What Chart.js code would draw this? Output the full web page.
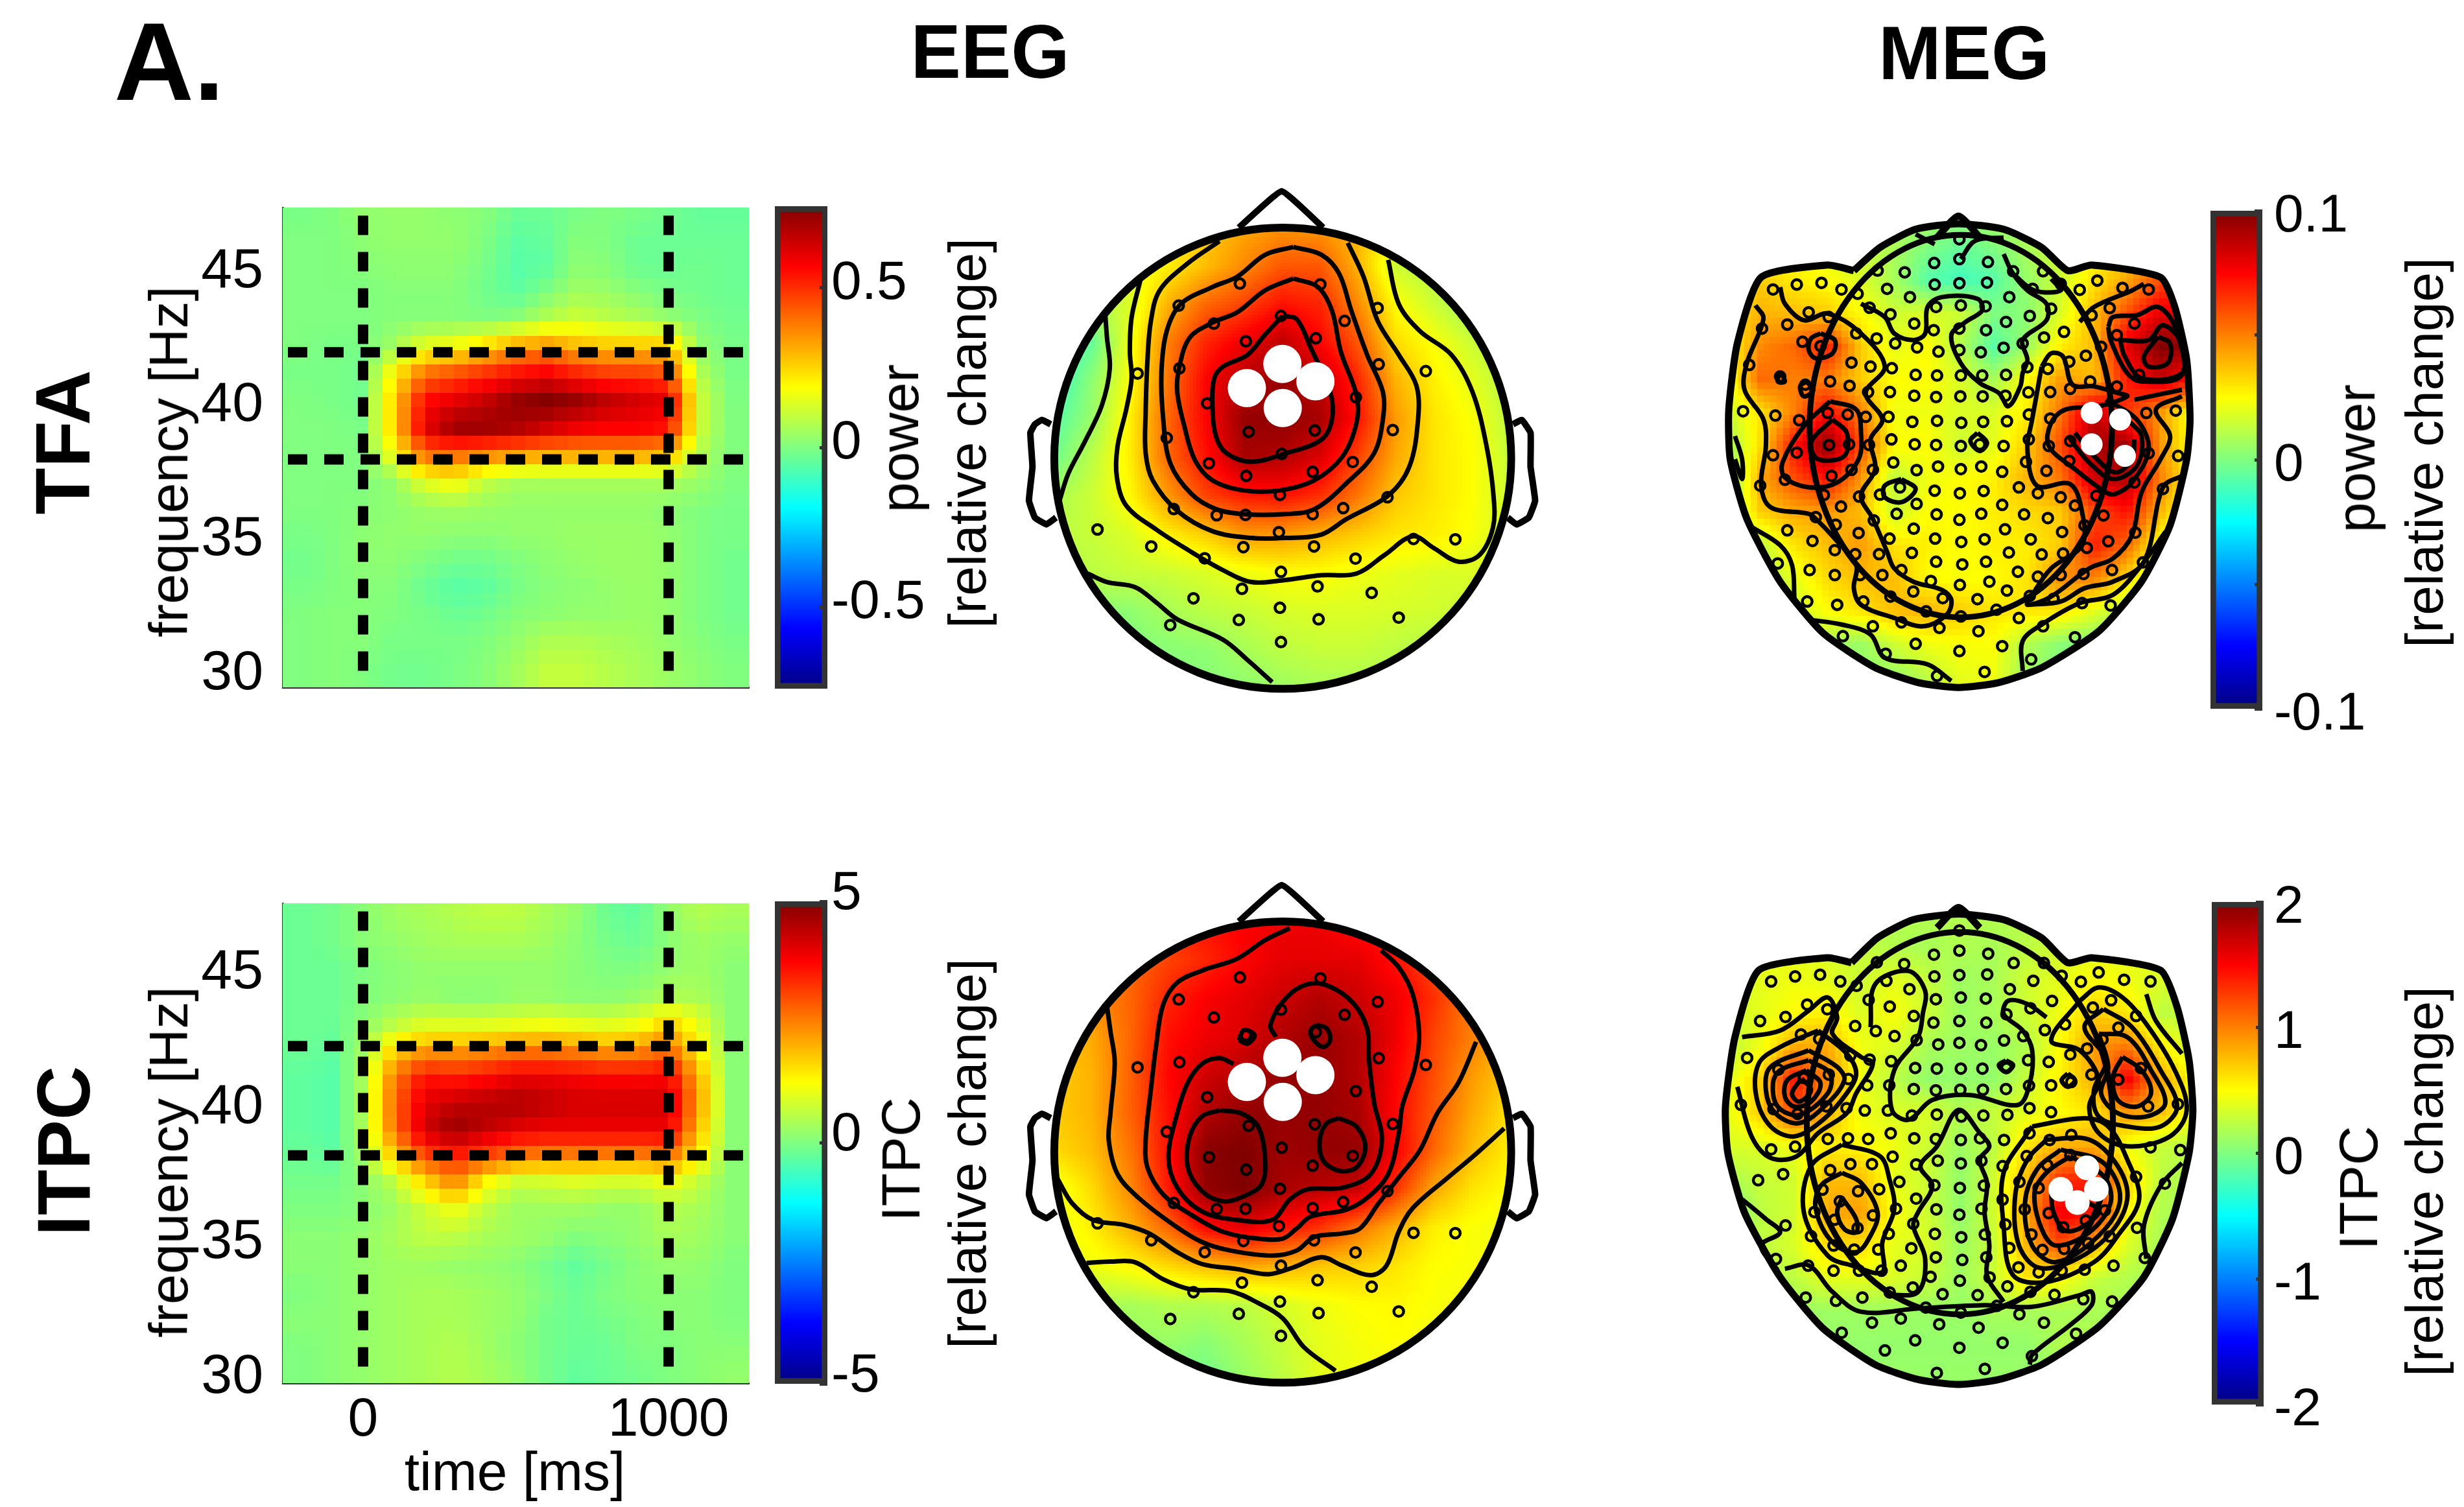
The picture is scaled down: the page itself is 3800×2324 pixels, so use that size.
<!DOCTYPE html>
<html>
<head>
<meta charset="utf-8">
<title>EEG and MEG gamma response</title>
<script src="https://cdn.jsdelivr.net/npm/chart.js@4/dist/chart.umd.min.js"></script>
<style>
  html, body { margin: 0; background: #fff; }
  #page { position: relative; width: 3800px; height: 2324px; overflow: hidden; font-family: "Liberation Sans", Arial, sans-serif; color: #000; }
  canvas { position: absolute; }
  .txt { position: absolute; white-space: nowrap; line-height: 1; z-index: 5; }
</style>
</head>
<body>
<div id="page"></div>
<script>
// --- time-frequency panels ---
const timeCols = [-200,-100,0,100,200,300,400,500,600,700,800,900,1000,1100,1200];
const freqRows = [47,46,45,44,43,42,41,40,39,38,37,36,35,34,33,32,31,30];
const timeTicks = [0,1000];
const freqTicks = [30,35,40,45];

const tfaPower = [
  [-.01,0,.03,.03,.03,.02,.01,-.03,-.03,-.01,0,-.01,-.02,-.04,-.04],
  [0,0,.02,.03,.03,.03,0,-.05,-.04,.01,0,-.03,-.03,-.03,-.03],
  [0,0,.01,.02,.02,.02,-.01,-.06,-.05,.02,.01,-.03,-.03,-.02,-.03],
  [0,0,0,.01,.01,.01,-.02,-.05,0,.05,.04,.01,-.01,-.02,-.03],
  [0,0,0,.01,.01,.01,0,.02,.08,.12,.09,.07,.03,0,-.02],
  [0,-.01,-.01,.05,.16,.18,.25,.33,.36,.3,.28,.28,.28,.03,-.01],
  [-.01,-.01,-.02,.2,.4,.45,.5,.55,.58,.52,.48,.48,.45,.08,-.01],
  [0,-.01,-.02,.25,.55,.6,.65,.72,.75,.72,.66,.63,.6,.12,0],
  [0,0,-.01,.25,.6,.72,.72,.7,.65,.6,.58,.58,.55,.12,0],
  [0,0,0,.18,.42,.42,.38,.35,.33,.33,.33,.33,.3,.08,0],
  [0,0,0,.03,.15,.2,.1,.06,.06,.06,.06,.06,.06,.04,0],
  [0,0,.01,.02,.04,.05,.04,.03,.03,.03,.03,.03,.02,0,-.01],
  [-.01,0,.02,.03,.03,.02,.02,.03,.03,.04,.04,.04,.03,0,-.01],
  [-.02,0,.02,.02,0,-.02,-.02,0,.02,.03,.04,.04,.03,0,-.02],
  [-.01,0,.01,.01,-.03,-.06,-.05,-.01,.01,.02,.03,.04,.03,0,-.02],
  [0,.01,.01,0,-.01,-.03,-.02,.01,.02,.03,.03,.04,.03,0,-.02],
  [0,.01,.01,-.01,-.01,-.01,0,.03,.07,.07,.06,.05,.03,.01,-.01],
  [0,.01,0,-.02,-.02,-.01,.01,.05,.1,.1,.08,.06,.04,.02,0]
];
const itpcPower = [
  [-.2,-.1,.1,.3,.4,.5,.6,.6,.4,.2,-.2,-.3,.2,.5,.4],
  [-.2,-.1,.1,.2,.3,.4,.4,.4,.3,.1,-.1,-.2,.1,.3,.2],
  [-.2,-.2,0,.1,.2,.2,.2,.2,.2,.1,0,0,.2,.3,.1],
  [-.2,-.2,0,.1,.2,.1,.1,.2,.2,.1,.1,.2,.4,.4,.1],
  [-.2,-.2,.1,.5,.8,.8,.8,.9,1,.9,.8,1,1.6,1,.1],
  [-.2,-.3,.3,1.6,2.2,2.2,2.3,2.5,2.5,2.4,2.2,2.3,2.7,1.4,.1],
  [-.3,-.4,.4,2.5,3.6,3.4,3.6,3.9,3.9,3.8,3.7,3.7,3.8,2,.1],
  [-.3,-.4,.4,2.7,4,4.3,4.5,4.6,4.4,4.2,4.2,4.2,4.2,2.2,.1],
  [-.3,-.4,.4,2.6,4.2,4.8,4.4,4,3.9,3.9,3.9,3.9,3.9,1.9,.1],
  [-.2,-.3,.3,1.7,3,3.4,3,2.6,2.4,2.4,2.4,2.4,2.6,1.4,.1],
  [-.1,-.1,.1,.5,1.5,2.4,1.2,.6,.7,.8,.7,.7,1,.6,.1],
  [0,0,.1,.3,.7,1.1,.6,.3,.3,.3,.2,.2,.5,.4,.1],
  [.1,.1,.2,.4,.6,.6,.4,.3,.2,0,.1,.2,.4,.3,.1],
  [.1,.1,.2,.3,.3,.2,.2,.1,-.1,-.3,-.1,.1,.2,.2,0],
  [0,.1,.2,.3,.4,.4,.3,.2,0,-.2,0,.1,.1,.1,0],
  [.1,.1,.2,.3,.4,.4,.3,.2,-.1,-.2,-.1,0,.1,.1,0],
  [0,.1,.2,.3,.4,.5,.3,.1,-.1,-.2,-.2,0,0,.1,.1],
  [0,.1,.2,.3,.4,.5,.4,.2,-.1,-.3,-.2,-.1,0,.1,.2]
];
const tfaDashFreqs = [41.8,37.8];
const itpcDashFreqs = [42.1,38.05];
const dashTimes = [0,1000];

// --- colour bars ---
const tfaBarRange = [-0.756,0.756];
const tfaBarTicks = [-0.5,0,0.5];
const tfaBarLabels = ['-0.5','0','0.5'];
const itpcBarRange = [-5,5];
const itpcBarTicks = [-5,0,5];
const itpcBarLabels = ['-5','0','5'];
const megTfaBarRange = [-0.1,0.1];
const megTfaBarTicks = [-0.1,-0.05,0,0.05,0.1];
const megTfaBarLabels = ['-0.1','','0','','0.1'];
const megItpcBarRange = [-2,2];
const megItpcBarTicks = [-2,-1,0,1,2];
const megItpcBarLabels = ['-2','-1','0','1','2'];

// --- EEG topographies, field values in % of the colour range ---
const eegCols = [140,248,356,464,572,680,788,896,1004,1112,1220,1328,1436];
const eegRows = [155,268,381,494,607,720,833,946,1059,1172,1285,1398,1511];
const eegTfaField = [
  [5,10,20,28,35,42,46,45,38,25,15,8,5],
  [5,10,20,28,38,48,58,58,40,15,10,8,5],
  [-8,8,18,40,55,62,72,68,48,25,15,5,5],
  [-15,-5,22,50,68,78,88,75,58,32,24,15,8],
  [-15,3,24,52,75,90,95,88,68,40,28,20,10],
  [-8,5,28,55,75,95,97,92,72,45,30,24,12],
  [-3,12,28,55,72,92,90,82,62,42,30,25,14],
  [8,15,26,45,62,70,72,66,52,36,30,25,15],
  [12,14,18,28,35,45,45,40,35,30,28,24,16],
  [8,12,14,15,18,22,25,25,22,20,18,18,14],
  [0,2,3,8,12,14,17,18,18,17,16,14,10],
  [0,0,0,2,3,8,12,14,14,12,10,8,6],
  [0,0,0,0,1,3,6,8,8,8,6,4,2]
];
const eegItpcField = [
  [55,58,62,68,72,76,78,78,72,65,58,50,45],
  [48,50,55,62,68,75,80,80,80,72,60,52,45],
  [42,48,55,68,76,80,85,90,85,78,66,50,42],
  [35,42,55,72,78,82,90,95,90,78,62,50,40],
  [35,40,56,74,84,90,96,96,90,75,60,45,35],
  [35,40,56,72,90,96,96,96,92,74,58,42,30],
  [32,38,52,72,98,100,94,96,96,76,55,38,28],
  [20,32,48,70,96,100,92,88,86,65,42,30,25],
  [20,28,40,55,74,80,72,65,52,40,28,24,22],
  [20,22,26,32,38,42,40,36,34,30,25,24,22],
  [8,8,8,10,10,12,17,22,25,26,24,22,20],
  [0,2,4,5,2,8,14,20,23,25,23,20,15],
  [-3,-3,-3,-3,-3,5,12,20,22,22,20,16,12]
];
const eegHead = [790,835,650,680];
const eegNose = [[665,155],[787,48],[905,155]];
const eegEarL = [[130,735],[105,722],[85,735],[72,760],[78,860],[68,960],[85,1010],[118,1030],[145,1010]];
const eegEarR = [[1445,735],[1470,722],[1495,760],[1495,860],[1508,960],[1490,1010],[1455,1030],[1430,1010]];
const eegSensors = [[668,320],[897,322],[494,385],[1060,392],[785,415],[594,438],[966,430],[685,490],[884,481],[377,585],[496,570],[1063,558],[1197,578],[575,673],[998,655],[460,775],[693,757],[881,753],[1103,752],[787,822],[580,850],[989,846],[686,887],[875,875],[782,943],[480,985],[602,1003],[684,1002],[875,1000],[962,982],[1088,950],[263,1045],[779,1053],[416,1095],[678,1097],[879,1095],[568,1130],[997,1131],[1162,1073],[1281,1074],[785,1170],[674,1220],[889,1213],[536,1248],[1043,1232],[782,1276],[665,1312],[892,1310],[1120,1305],[470,1327],[785,1377]];
const eegHighlight = [[789,557],[688,628],[883,608],[790,687]];
const eegTfaContours = [
  [[285,410],[290,480],[298,570],[275,680],[225,790],[180,880],[155,960]],
  [[385,310],[360,420],[355,520],[360,600],[345,690],[320,800],[318,890],[345,975],[430,1045],[520,1105],[620,1165],[700,1200],[790,1195],[900,1180],[1000,1175],[1080,1120],[1160,1065],[1220,1100],[1290,1140],[1350,1120],[1388,1040],[1390,950],[1370,800],[1330,640],[1270,530],[1180,460],[1120,380],[1090,250]],
  [[610,195],[520,260],[440,340],[415,430],[405,550],[400,700],[400,820],[420,900],[490,990],[590,1050],[700,1070],[800,1070],[900,1060],[970,1015],[1090,945],[1150,860],[1175,720],[1170,620],[1120,530],[1060,430],[1020,300],[975,200]],
  [[820,212],[900,235],[950,290],[985,400],[1030,530],[1075,640],[1075,720],[1050,820],[980,900],[880,985],[790,1000],[680,1000],[600,985],[530,940],[470,850],[450,720],[445,580],[460,460],[500,380],[590,330],[660,300],[740,235],[820,212]],
  [[820,305],[890,330],[930,400],[955,520],[1000,650],[1000,730],[960,830],[880,900],[780,930],[680,930],[590,900],[540,840],[510,740],[490,640],[495,570],[525,480],[590,435],[660,405],[740,340],[820,305]],
  [[790,415],[830,425],[870,510],[925,640],[930,720],[900,780],[800,820],[700,845],[630,820],[600,770],[590,680],[595,600],[620,565],[690,530],[740,470],[790,415]],
  [[235,1175],[290,1200],[370,1215],[430,1260],[490,1310],[620,1370],[690,1430],[760,1495]]
];
const eegItpcContours = [
  [[810,175],[740,210],[660,265],[560,300],[490,335],[450,400],[430,520],[415,650],[400,800],[405,880],[450,960],[530,1020],[620,1070],[720,1090],[790,1090],[830,1060],[870,1025],[970,1005],[1030,970],[1090,900],[1120,780],[1130,700],[1165,590],[1178,490],[1160,370],[1120,290],[1070,240]],
  [[290,405],[300,480],[312,570],[300,720],[295,800],[320,900],[380,970],[480,1050],[560,1100],[640,1125],[760,1140],[830,1125],[880,1085],[960,1075],[1010,1060],[1060,990],[1120,910],[1180,830],[1230,720],[1290,630],[1340,510]],
  [[150,915],[190,985],[250,1035],[340,1050],[410,1075],[490,1130],[560,1165],[660,1180],[750,1195],[820,1175],[900,1145],[960,1170],[1040,1198],[1085,1170],[1120,1070],[1160,1000],[1260,910],[1340,840],[1420,765]],
  [[232,1162],[300,1158],[370,1160],[450,1210],[530,1240],[640,1245],[720,1280],[790,1325],[850,1410],[940,1480]],
  [[650,575],[610,558],[560,575],[520,630],[490,720],[465,850],[490,940],[560,1010],[660,1035],[760,1035],[810,975],[860,945],[960,940],[1040,900],[1072,800],[1050,690],[1035,560],[1030,470],[990,395],[920,345],[860,340],[800,380],[755,460],[770,495]],
  [[610,712],[670,720],[720,760],[740,860],[730,930],[680,965],[620,980],[560,950],[520,880],[525,790],[560,730],[610,712]],
  [[950,735],[1000,760],[1025,820],[1000,880],[950,890],[905,860],[895,800],[915,750],[950,735]],
  [[885,460],[915,470],[925,505],[905,525],[875,500],[870,475],[885,460]],
  [[665,505],[690,515],[710,490],[680,475],[665,505]]
];

// --- MEG topographies, field values in % of the colour range ---
const megCols = [20,90,160,230,300,370,440,510,580,650,720,790,860,930,1000];
const megRows = [60,160,260,360,460,560,660,760,860,960,1060,1160,1260,1360,1460];
const megTfaField = [
  [20,25,25,20,15,10,8,5,8,10,15,25,35,45,45],
  [25,30,28,22,15,8,0,-5,0,8,15,25,35,50,50],
  [30,35,28,25,18,8,-8,-12,-8,5,15,30,42,60,60],
  [30,40,38,35,25,15,18,15,0,2,18,38,60,80,80],
  [25,48,55,70,35,20,25,10,-8,5,28,38,80,100,95],
  [20,55,50,50,35,25,25,18,8,25,45,38,70,85,70],
  [15,30,50,75,50,22,22,18,18,28,52,88,65,45,20],
  [5,32,72,98,60,25,25,15,20,35,60,92,95,45,22],
  [0,42,60,72,45,12,22,25,28,40,52,85,90,50,25],
  [8,35,42,45,38,15,25,25,28,32,35,60,72,40,15],
  [5,12,30,38,45,30,28,24,28,28,35,70,55,22,5],
  [0,8,20,32,38,38,25,24,25,30,48,50,32,12,0],
  [0,5,15,25,30,38,40,35,30,30,30,20,10,5,0],
  [0,0,5,8,5,15,22,24,24,10,2,0,0,0,0],
  [0,0,0,3,3,5,12,20,22,5,0,0,0,0,0]
];
const megItpcField = [
  [15,15,15,15,12,10,10,10,10,10,12,14,15,15,15],
  [18,20,20,18,14,10,8,10,8,12,16,20,20,18,15],
  [18,20,22,20,15,20,14,6,8,16,20,25,22,18,15],
  [15,20,25,28,18,24,15,6,8,15,22,35,30,12,12],
  [12,22,42,42,22,18,8,6,5,10,25,45,52,28,15],
  [18,35,72,48,22,12,4,4,4,14,28,40,78,42,25],
  [20,35,60,40,22,18,18,10,14,20,25,30,45,38,22],
  [18,18,22,28,26,22,15,6,12,30,40,42,22,14,12],
  [8,14,16,38,38,20,15,4,16,38,66,70,35,12,8],
  [-2,12,16,42,44,24,15,4,16,42,78,72,26,10,8],
  [4,12,18,32,32,20,18,6,14,40,60,40,18,8,6],
  [2,8,12,20,20,18,14,6,15,30,25,14,10,8,6],
  [2,4,5,6,6,6,5,5,8,8,8,8,8,6,5],
  [2,4,4,4,4,4,4,4,4,4,10,10,6,4,4],
  [2,4,4,4,4,5,5,5,5,5,5,5,5,5,5]
];
const megTfaHelmet = [[285,230],[340,160],[415,105],[505,88],[600,105],[680,160],[735,230],[785,213],[930,250],[960,340],[985,500],[992,680],[985,800],[950,1000],[890,1170],[800,1320],[680,1430],[590,1475],[505,1490],[420,1475],[330,1430],[220,1325],[130,1170],[60,980],[25,800],[22,650],[40,450],[90,250],[230,213],[285,230]];
const megItpcHelmet = [[280,205],[335,130],[410,75],[505,58],[600,75],[680,130],[735,205],[785,190],[930,228],[965,340],[990,500],[998,650],[990,780],[955,980],[895,1155],[800,1305],[680,1420],[590,1465],[505,1480],[420,1465],[330,1420],[220,1310],[130,1155],[55,960],[20,780],[15,640],[35,430],[85,228],[230,190],[280,205]];
const megTfaHead = [510,700,318,578];
const megItpcHead = [508,690,322,578];
const megTfaNose = [[460,130],[505,65],[550,130]];
const megItpcNose = [[460,100],[505,38],[550,100]];
const megSensors = [[507,135],[507,195],[454,207],[567,204],[392,235],[620,232],[683,232],[335,230],[455,272],[507,268],[565,266],[355,285],[403,310],[612,310],[661,285],[720,270],[760,288],[797,260],[850,282],[905,287],[115,287],[165,272],[217,267],[259,287],[293,300],[458,340],[510,335],[562,338],[318,342],[362,362],[412,390],[605,385],[655,367],[700,345],[785,365],[823,343],[190,356],[232,370],[145,393],[92,405],[453,410],[507,405],[563,410],[333,435],[372,450],[418,462],[463,475],[507,470],[552,477],[600,463],[640,450],[685,432],[727,415],[805,460],[875,390],[838,425],[177,445],[215,458],[290,420],[65,515],[280,508],[320,520],[365,525],[415,545],[460,547],[510,547],[555,547],[605,545],[650,522],[693,527],[738,505],[773,487],[885,545],[130,550],[183,575],[235,565],[276,578],[315,597],[361,597],[412,608],[458,612],[509,610],[556,610],[604,608],[652,598],[698,597],[740,587],[782,565],[838,580],[52,655],[120,668],[170,682],[230,660],[272,665],[310,672],[358,672],[408,687],[460,684],[511,690],[557,687],[607,685],[653,665],[698,677],[900,660],[962,653],[233,757],[275,755],[317,757],[364,740],[413,755],[458,757],[510,760],[550,755],[600,760],[653,740],[695,760],[740,745],[905,782],[967,790],[115,788],[165,780],[238,850],[280,832],[325,832],[368,810],[417,833],[462,822],[510,830],[553,822],[597,838],[647,808],[690,835],[738,805],[875,870],[88,880],[140,862],[382,885],[455,895],[508,903],[558,896],[632,885],[672,903],[720,915],[795,910],[340,907],[296,913],[222,908],[935,890],[258,943],[417,935],[597,938],[750,940],[375,965],[459,967],[507,983],[553,965],[643,967],[693,978],[810,970],[205,975],[327,985],[247,998],[145,1015],[295,1023],[411,1010],[603,1012],[723,1020],[770,1000],[877,1022],[198,1047],[360,1040],[456,1040],[511,1050],[560,1042],[657,1042],[820,1048],[245,1075],[288,1087],[338,1087],[407,1083],[458,1110],[513,1118],[563,1110],[611,1082],[680,1088],[725,1085],[775,1068],[125,1115],[893,1112],[192,1135],[245,1150],[298,1150],[345,1150],[385,1135],[447,1168],[508,1180],[570,1170],[630,1140],[672,1155],[720,1150],[768,1147],[828,1135],[187,1230],[250,1240],[305,1230],[362,1215],[410,1200],[472,1220],[545,1223],[607,1197],[655,1213],[705,1222],[765,1235],[825,1242],[437,1260],[510,1275],[585,1255],[632,1280],[385,1293],[325,1305],[465,1310],[547,1320],[683,1305],[262,1335],[750,1338],[415,1358],[597,1365],[507,1380],[352,1388],[658,1405],[460,1455],[560,1443]];
const megTfaHighlight = [[785,660],[845,680],[785,755],[855,790]];
const megItpcHighlight = [[775,825],[795,890],[720,890],[755,930]];
const megTfaContours = [
  [[78,335],[95,375],[60,510],[55,590],[95,680],[100,760],[90,880],[110,945],[190,965],[205,980],[245,1040],[290,1120],[285,1190],[300,1240],[370,1280],[430,1305],[480,1270],[490,1225],[470,1195],[410,1170],[370,1130],[355,1080],[325,980],[300,910],[330,830],[320,740],[345,680],[310,600],[350,520],[300,420],[230,360],[180,380],[140,330],[130,280]],
  [[235,625],[290,650],[300,720],[295,800],[250,870],[190,885],[140,855],[135,810],[180,700],[235,625]],
  [[240,680],[270,720],[265,790],[210,800],[195,750],[240,680]],
  [[215,420],[245,440],[240,480],[205,495],[190,470],[195,435],[215,420]],
  [[130,535],[140,565],[125,565],[130,535]],
  [[185,565],[200,590],[180,610],[172,580],[185,565]],
  [[300,330],[350,370],[370,420],[410,440],[435,420],[440,340],[470,310],[545,315],[555,350],[520,385],[490,425],[510,510],[550,570],[590,600],[610,640],[635,580],[640,540],[650,500],[640,440],[690,380],[690,330],[650,290],[620,240],[600,180]],
  [[680,520],[700,480],[725,490],[745,575],[790,580],[840,600],[860,610],[800,640],[730,650],[700,690],[695,760],[750,830],[815,900],[835,905],[870,870],[905,770],[880,680],[815,620]],
  [[680,520],[670,600],[660,680],[650,770],[670,880],[740,875],[765,960],[765,1060],[700,1130],[660,1210],[650,1240],[700,1215],[780,1130],[830,1100],[870,1030],[890,900],[930,800],[950,730],[920,650],[975,610]],
  [[820,400],[830,370],[880,365],[925,340],[960,400],[975,545],[890,565],[860,540],[825,440],[820,400]],
  [[845,440],[905,440],[935,395],[975,450],[975,540],[890,555],[855,490],[845,440]],
  [[925,430],[950,450],[945,510],[905,520],[895,490],[925,430]],
  [[760,385],[790,340],[870,290],[895,270]],
  [[875,620],[975,590]],
  [[70,1005],[130,1060],[155,1120],[160,1220]],
  [[35,730],[50,800],[50,860],[35,800]],
  [[190,1285],[260,1300],[320,1330],[350,1400],[440,1420],[490,1470]],
  [[640,1440],[640,1350],[680,1300],[760,1235],[830,1210],[890,1120],[940,1020]],
  [[655,1240],[720,1230],[770,1190],[830,1170],[895,1110],[935,885],[975,850]],
  [[385,860],[415,890],[385,930],[350,915],[350,880],[385,860]],
  [[545,720],[565,750],[550,775],[530,745],[545,720]],
  [[735,730],[780,810],[830,860],[880,820],[890,730],[860,680]],
  [[750,720],[790,790],[835,840],[870,800],[875,740]],
  [[415,120],[455,150]],
  [[510,195],[540,140],[600,130]],
  [[620,240],[665,290],[720,290],[700,255]]
];
const megItpcContours = [
  [[50,430],[130,410],[190,350],[230,310],[250,370],[240,420],[300,490],[325,510],[290,600],[270,660],[210,720],[165,790],[110,795],[70,730],[40,580]],
  [[210,410],[270,480],[290,540],[270,600],[220,680],[160,730],[110,700],[80,610],[85,510],[130,460],[210,410]],
  [[190,470],[250,520],[265,560],[230,630],[170,690],[120,660],[100,590],[110,520],[190,470]],
  [[190,500],[235,540],[230,600],[170,665],[125,640],[115,570],[130,530],[190,500]],
  [[185,530],[215,570],[195,625],[160,640],[140,610],[145,560],[185,530]],
  [[175,555],[195,590],[170,625],[155,600],[175,555]],
  [[760,320],[800,280],[850,310],[900,390],[960,530],[985,650],[950,730],[860,760],[800,720],[780,640],[800,560],[760,470],[700,440],[760,320]],
  [[810,345],[870,400],[930,530],[965,640],[930,700],[860,700],[800,670],[790,590],[815,500],[770,400],[810,345]],
  [[800,420],[860,430],[910,530],[940,630],[900,670],[840,660],[805,600],[820,520],[800,420]],
  [[850,490],[890,530],[910,600],[880,640],[840,620],[830,550],[850,490]],
  [[660,700],[770,675],[820,700],[860,800],[885,920],[840,1030],[790,1110],[690,1170],[620,1150],[600,1000],[600,840],[650,720],[660,700]],
  [[690,740],[780,740],[840,820],[860,920],[820,1030],[740,1110],[670,1125],[630,1050],[625,900],[650,800],[690,740]],
  [[720,770],[810,810],[845,920],[800,1030],[710,1110],[660,1060],[645,930],[670,830],[720,770]],
  [[740,790],[810,850],[825,930],[780,1020],[710,1060],[680,1010],[665,900],[690,840],[740,790]],
  [[700,900],[800,950],[770,1000],[730,1015],[705,960],[700,900]],
  [[260,755],[340,790],[360,860],[370,950],[345,1050],[345,1140],[280,1120],[230,1090],[180,960],[195,820],[260,755]],
  [[260,840],[300,870],[335,960],[320,1030],[290,1080],[240,1050],[205,950],[215,880],[260,840]],
  [[260,915],[290,980],[290,1020],[265,1010],[250,960],[260,915]],
  [[320,400],[330,270],[400,230],[435,290],[430,360],[420,430],[370,530],[365,650],[400,680],[450,620],[530,605],[630,635],[655,570],[660,470],[640,410],[600,360],[610,320],[650,330],[690,370]],
  [[600,1230],[565,1150],[570,1060],[560,960],[565,870],[550,800],[570,760],[550,720],[505,650],[460,760],[425,820],[450,880],[420,960],[410,1000],[435,1100],[420,1200],[360,1210]],
  [[140,1130],[190,1120],[240,1200],[300,1260],[420,1250],[560,1240],[660,1245],[760,1210],[785,1200],[785,1240],[740,1300],[660,1390],[655,1420]],
  [[50,920],[100,980],[130,1020],[90,1060],[125,1135]],
  [[605,500],[620,515],[605,535],[590,515],[605,500]],
  [[735,540],[750,560],[735,580],[722,560],[735,540]],
  [[975,810],[930,880],[895,1000],[900,1100]],
  [[900,300],[920,380],[975,480]]
];

// --- helpers ---
const page = document.getElementById('page');
const font = 'Liberation Sans';
const pts = a => a.map(p => ({ x: p[0], y: p[1] }));
const clamp01 = v => Math.max(0, Math.min(1, v));

function jet(t) {
    t = clamp01(t);
    const r = clamp01(1.5 - Math.abs(4 * t - 3));
    const g = clamp01(1.5 - Math.abs(4 * t - 2));
    const b = clamp01(1.5 - Math.abs(4 * t - 1));
    return `rgb(${Math.round(r * 255)},${Math.round(g * 255)},${Math.round(b * 255)})`;
}

function sampleField(xs, ys, grid, x, y) {
    const fx = Math.max(0, Math.min(xs.length - 1.001, (x - xs[0]) / (xs[1] - xs[0])));
    const fy = Math.max(0, Math.min(ys.length - 1.001, (y - ys[0]) / (ys[1] - ys[0])));
    const i = Math.floor(fx), j = Math.floor(fy), u = fx - i, v = fy - j;
    return grid[j][i] * (1 - u) * (1 - v) + grid[j][i + 1] * u * (1 - v)
         + grid[j + 1][i] * (1 - u) * v + grid[j + 1][i + 1] * u * v;
}

// paints the field through the chart's own scales, under the datasets
function heatLayer(o) {
    return {
        id: 'heat',
        beforeDatasetsDraw(chart) {
            const { ctx, chartArea: a, scales: { x, y } } = chart;
            const ellipsePath = e => {
                const cx = x.getPixelForValue(e[0]), cy = y.getPixelForValue(e[1]);
                const rx = Math.abs(x.getPixelForValue(e[0] + e[2]) - cx);
                const ry = Math.abs(y.getPixelForValue(e[1] + e[3]) - cy);
                ctx.beginPath();
                ctx.ellipse(cx, cy, rx, ry, 0, 0, Math.PI * 2);
            };
            ctx.save();
            if (o.clipPoly) {
                ctx.beginPath();
                o.clipPoly.forEach((p, i) => {
                    const px = x.getPixelForValue(p[0]), py = y.getPixelForValue(p[1]);
                    if (i) ctx.lineTo(px, py); else ctx.moveTo(px, py);
                });
                ctx.closePath();
                ctx.clip();
            } else if (o.head) {
                ellipsePath(o.head);
                ctx.clip();
            }
            for (let py = a.top; py < a.bottom; py += o.block) {
                for (let px = a.left; px < a.right; px += o.block) {
                    const v = sampleField(o.xs, o.ys, o.grid,
                        x.getValueForPixel(Math.min(px + o.block / 2, a.right)),
                        y.getValueForPixel(Math.min(py + o.block / 2, a.bottom)));
                    ctx.fillStyle = jet((v + o.range) / (2 * o.range));
                    ctx.fillRect(px, py, Math.min(o.block + 1, a.right - px), Math.min(o.block + 1, a.bottom - py));
                }
            }
            ctx.restore();
            if (o.head) {
                ctx.save();
                ellipsePath(o.head);
                ctx.lineWidth = o.headWidth;
                ctx.strokeStyle = '#000';
                ctx.stroke();
                ctx.restore();
            }
        }
    };
}

function addCanvas(left, top, width, height) {
    const c = document.createElement('canvas');
    c.width = width;
    c.height = height;
    c.style.left = left + 'px';
    c.style.top = top + 'px';
    page.appendChild(c);
    return c;
}

// cx = horizontal centre, by = baseline; rotated text reads bottom to top
function addText(str, cx, by, size, bold) {
    const d = document.createElement('div');
    d.className = 'txt';
    d.textContent = str;
    d.style.fontSize = size + 'px';
    d.style.fontWeight = bold ? 'bold' : 'normal';
    d.style.left = cx + 'px';
    d.style.top = (by - 0.3465 * size) + 'px';
    d.style.transform = 'translate(-50%,-50%)';
    page.appendChild(d);
}
function addRotated(str, bx, cy, size, bold) {
    const d = document.createElement('div');
    d.className = 'txt';
    d.textContent = str;
    d.style.fontSize = size + 'px';
    d.style.fontWeight = bold ? 'bold' : 'normal';
    d.style.left = (bx - 0.3465 * size) + 'px';
    d.style.top = cy + 'px';
    d.style.transform = 'translate(-50%,-50%) rotate(-90deg)';
    page.appendChild(d);
}

// --- time-frequency panel ---
function tfPanel(p) {
    const datasets = [];
    dashTimes.forEach(t => datasets.push({
        data: [{ x: t, y: p.dashTop }, { x: t, y: p.dashBottom }],
        showLine: true, pointRadius: 0, borderColor: '#000', borderWidth: 16, borderDash: [30, 26]
    }));
    p.dashFreqs.forEach(f => datasets.push({
        data: [{ x: -246, y: f }, { x: 1258, y: f }],
        showLine: true, pointRadius: 0, borderColor: '#000', borderWidth: 16, borderDash: [30, 26]
    }));
    new Chart(addCanvas(200, p.canvasTop, 985, p.areaBottom - p.canvasTop + 110), {
        type: 'scatter',
        data: { datasets },
        plugins: [heatLayer({ xs: timeCols, ys: freqRows, grid: p.grid, range: p.range, block: 22 })],
        options: {
            responsive: false, animation: false,
            layout: { autoPadding: false, padding: { top: p.areaTop - p.canvasTop, right: 30 } },
            plugins: { legend: { display: false }, tooltip: { enabled: false } },
            scales: {
                x: {
                    type: 'linear', min: -263, max: 1263,
                    afterFit: s => { s.height = 110; s.paddingLeft = 0; s.paddingRight = 0; },
                    afterBuildTicks: s => { s.ticks = timeTicks.map(value => ({ value })); },
                    border: { color: '#333', width: 3 },
                    grid: { drawOnChartArea: false, drawTicks: false },
                    ticks: {
                        display: p.showTime, padding: 7, maxRotation: 0, autoSkip: false, color: '#000',
                        font: { family: font, size: 84 },
                        callback: v => String(v)
                    }
                },
                y: {
                    type: 'linear', min: p.freqMin, max: p.freqMax,
                    afterFit: s => { s.width = 236; s.paddingTop = 0; s.paddingBottom = 0; },
                    afterBuildTicks: s => { s.ticks = freqTicks.map(value => ({ value })); },
                    border: { color: '#333', width: 3 },
                    grid: { drawOnChartArea: false, drawTicks: false },
                    ticks: {
                        padding: 30, labelOffset: 8, autoSkip: false, color: '#000',
                        font: { family: font, size: 86 }
                    }
                }
            }
        }
    });
}

// --- colour bar: one floating bar filled with the jet ramp ---
function colourBar(p) {
    const stops = [0, 0.125, 0.375, 0.625, 0.875, 1];
    const w = p.right - p.left;
    new Chart(addCanvas(p.left, p.top - 70, p.canvasWidth, p.bottom - p.top + 140), {
        type: 'bar',
        data: {
            labels: [''],
            datasets: [{
                data: [p.range],
                barPercentage: 1, categoryPercentage: 1,
                borderColor: '#333', borderWidth: 9, borderSkipped: false,
                backgroundColor(ctx) {
                    const a = ctx.chart.chartArea;
                    if (!a) return '#888';
                    const g = ctx.chart.ctx.createLinearGradient(0, a.bottom, 0, a.top);
                    stops.forEach(s => g.addColorStop(s, jet(s)));
                    return g;
                }
            }]
        },
        options: {
            responsive: false, animation: false,
            layout: { autoPadding: false, padding: { top: 70, bottom: 70 } },
            plugins: { legend: { display: false }, tooltip: { enabled: false } },
            scales: {
                x: { display: false },
                y: {
                    position: 'right', type: 'linear', min: p.range[0], max: p.range[1],
                    afterFit: s => { s.width = p.canvasWidth - w; s.paddingTop = 0; s.paddingBottom = 0; },
                    afterBuildTicks: s => { s.ticks = p.ticks.map(value => ({ value })); },
                    border: { display: false },
                    grid: { z: 1, drawOnChartArea: false, drawTicks: true, tickLength: -12, tickWidth: 5, tickColor: '#333' },
                    ticks: {
                        padding: p.labelPad, labelOffset: p.labelOffset, autoSkip: false, color: '#000',
                        font: { family: font, size: p.fontSize },
                        callback: (v, i) => p.labels[i]
                    }
                }
            }
        }
    });
}

// --- scalp topography, read in a 1568-unit square stretched over its box ---
function topoPanel(p) {
    const datasets = [{
        data: pts(p.highlight), order: 0, showLine: false,
        pointRadius: p.highlightRadius, pointBackgroundColor: '#fff', pointBorderWidth: 0
    }, {
        data: pts(p.sensors), order: 1, showLine: false,
        pointRadius: 7.5, pointBackgroundColor: 'rgba(0,0,0,0)', pointBorderColor: '#000', pointBorderWidth: 4.5,
        xAxisID: p.sensorX, yAxisID: p.sensorY
    }];
    p.contours.forEach(c => datasets.push({
        data: pts(c), order: 2, showLine: true, pointRadius: 0, tension: 0.35,
        borderColor: '#000', borderWidth: p.contourWidth
    }));
    p.outlines.forEach(c => datasets.push({
        data: pts(c), order: 3, showLine: true, pointRadius: 0, tension: p.outlineTension,
        borderColor: '#000', borderWidth: p.outlineWidth, borderJoinStyle: 'round'
    }));
    const hidden = (axis, min, max, reverse) => ({ type: 'linear', axis, display: false, min, max, reverse });
    new Chart(addCanvas(p.left, p.top, p.width, p.height), {
        type: 'scatter',
        data: { datasets },
        plugins: [heatLayer({ xs: p.xs, ys: p.ys, grid: p.grid, range: 100, block: p.block, head: p.head, headWidth: p.headWidth, clipPoly: p.clipPoly })],
        options: {
            responsive: false, animation: false,
            layout: { autoPadding: false },
            plugins: { legend: { display: false }, tooltip: { enabled: false } },
            scales: {
                x: hidden('x', 0, p.maxX, false),
                y: hidden('y', 0, 1568, true),
                xS: hidden('x', p.sensorRangeX[0], p.sensorRangeX[1], false),
                yS: hidden('y', p.sensorRangeY[0], p.sensorRangeY[1], true)
            }
        }
    });
}

// --- build the page ---
document.addEventListener('DOMContentLoaded', () => {
    addText('A.', 261, 154, 170, true);
    addText('EEG', 1527, 120, 116, true);
    addText('MEG', 3029, 122, 116, true);
    addRotated('TFA', 138, 682, 118, true);
    addRotated('ITPC', 138, 1775, 115, true);

    tfPanel({ canvasTop: 270, areaTop: 320, areaBottom: 1060, grid: tfaPower, range: 0.756, freqMin: 29.3, freqMax: 47.2, dashFreqs: tfaDashFreqs, dashTop: 46.9, dashBottom: 29.6, showTime: false });
    tfPanel({ canvasTop: 1340, areaTop: 1393, areaBottom: 2133, grid: itpcPower, range: 5, freqMin: 29.6, freqMax: 47.4, dashFreqs: itpcDashFreqs, dashTop: 47.1, dashBottom: 29.8, showTime: true });
    addRotated('frequency [Hz]', 289, 712, 84);
    addRotated('frequency [Hz]', 289, 1792, 84);
    addText('time [ms]', 794, 2298, 84);

    colourBar({ left: 1195, right: 1276, top: 318, bottom: 1062, canvasWidth: 250, range: tfaBarRange, ticks: tfaBarTicks, labels: tfaBarLabels, labelPad: 18, labelOffset: -6, fontSize: 84 });
    colourBar({ left: 1195, right: 1276, top: 1390, bottom: 2134, canvasWidth: 250, range: itpcBarRange, ticks: itpcBarTicks, labels: itpcBarLabels, labelPad: 18, labelOffset: -11, fontSize: 84 });
    colourBar({ left: 3409, right: 3489, top: 325, bottom: 1093, canvasWidth: 260, range: megTfaBarRange, ticks: megTfaBarTicks, labels: megTfaBarLabels, labelPad: 30, labelOffset: 9, fontSize: 82 });
    colourBar({ left: 3411, right: 3491, top: 1391, bottom: 2166, canvasWidth: 260, range: megItpcBarRange, ticks: megItpcBarTicks, labels: megItpcBarLabels, labelPad: 28, labelOffset: 9, fontSize: 82 });

    addRotated('power', 1416, 676, 84);
    addRotated('[relative change]', 1520, 668, 82);
    addRotated('ITPC', 1418, 1788, 84);
    addRotated('[relative change]', 1520, 1779, 82);
    addRotated('power', 3662, 707, 84);
    addRotated('[relative change]', 3767, 698, 82);
    addRotated('ITPC', 3666, 1832, 84);
    addRotated('[relative change]', 3767, 1822, 82);

    const eegCommon = {
        left: 1550, width: 850, height: 820, maxX: 1568, xs: eegCols, ys: eegRows, block: 5,
        head: eegHead, headWidth: 12, sensors: eegSensors, sensorX: 'x', sensorY: 'y',
        sensorRangeX: [0, 1568], sensorRangeY: [0, 1568],
        highlight: eegHighlight, highlightRadius: 29.5, contourWidth: 7,
        outlines: [eegNose, eegEarL, eegEarR], outlineWidth: 10, outlineTension: 0.1
    };
    topoPanel({ ...eegCommon, top: 270, grid: eegTfaField, contours: eegTfaContours });
    topoPanel({ ...eegCommon, top: 1340, grid: eegItpcField, contours: eegItpcContours });

    const megCommon = {
        left: 2650, width: 748, height: 800, maxX: 1020, xs: megCols, ys: megRows, block: 10,
        headWidth: 9, sensors: megSensors, contourWidth: 7,
        outlineWidth: 11, outlineTension: 0.2
    };
    topoPanel({
        ...megCommon, top: 300, grid: megTfaField, contours: megTfaContours, clipPoly: megTfaHelmet,
        head: megTfaHead, highlight: megTfaHighlight, highlightRadius: 17, outlines: [megTfaHelmet, megTfaNose],
        sensorX: 'x', sensorY: 'y', sensorRangeX: [0, 1020], sensorRangeY: [0, 1568]
    });
    // the ITPC plot has the same sensors, drawn about 1% larger and a little higher
    topoPanel({
        ...megCommon, top: 1380, grid: megItpcField, contours: megItpcContours, clipPoly: megItpcHelmet,
        head: megItpcHead, highlight: megItpcHighlight, highlightRadius: 19, outlines: [megItpcHelmet, megItpcNose],
        sensorX: 'xS', sensorY: 'yS', sensorRangeX: [5, 1015], sensorRangeY: [28.6, 1576.5]
    });
});
</script>
</body>
</html>
